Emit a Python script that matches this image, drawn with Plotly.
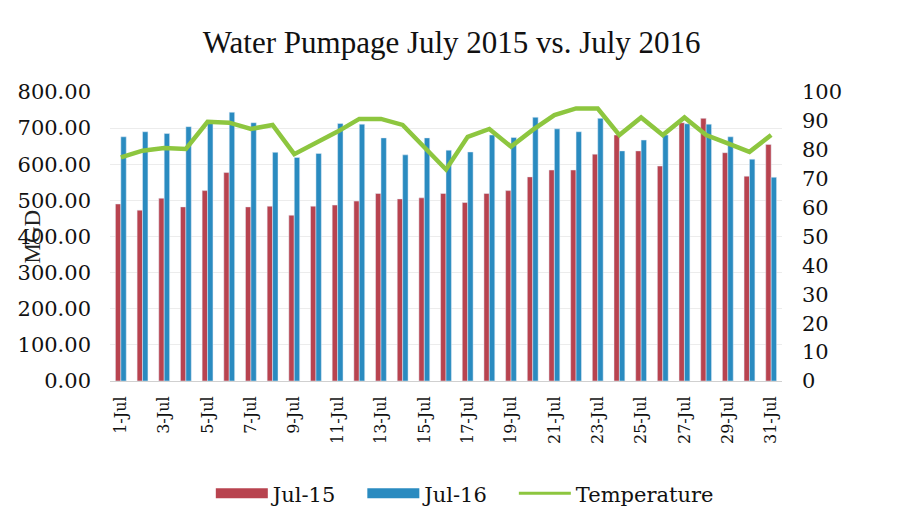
import plotly.graph_objects as go

days = [f"{d}-Jul" for d in range(1, 32)]
jul15 = [490, 473, 506, 482, 527, 577, 482, 484, 459, 484, 487, 498, 519, 504, 507, 519,
         494, 519, 527, 565, 584, 584, 628, 681, 637, 595, 715, 727, 632, 567, 655]
jul16 = [676, 690, 685, 704, 722, 744, 715, 633, 619, 630, 713, 711, 673, 626, 673, 639,
         634, 681, 674, 730, 698, 690, 727, 637, 667, 681, 712, 711, 676, 614, 564]
temperature = [77.4, 79.7, 80.6, 80.3, 89.7, 89.4, 87.2, 88.6, 78.5, 82.2, 86.3, 90.7,
               90.7, 88.6, 81.1, 73.2, 84.5, 87.2, 81.1, 86.9, 92.0, 94.3, 94.3, 85.1,
               91.2, 85.1, 91.2, 85.1, 82.2, 79.3, 85.1]
tick_days = days[::2]
left_ticks = list(range(0, 801, 100))
right_ticks = list(range(0, 101, 10))
series_names = ["Jul-15", "Jul-16", "Temperature"]

RED, BLUE, GREEN = "#B8434F", "#2A8BC0", "#8DC63F"
serif = "Liberation Serif, Times New Roman, serif"
wide = "DejaVu Serif, serif"
pad = "\u00a0\u00a0\u00a0"

fig = go.Figure()
fig.add_trace(go.Bar(x=days, y=jul15, name=series_names[0], marker_color=RED, showlegend=False))
fig.add_trace(go.Bar(x=days, y=jul16, name=series_names[1], marker_color=BLUE, showlegend=False))
fig.add_trace(go.Scatter(x=days, y=temperature, name=series_names[2], mode="lines",
                         line=dict(color=GREEN, width=4.5), yaxis="y2", showlegend=False))
# legend-only entries (wide swatches like the reference)
for nm, col, w in [(series_names[0] + pad, RED, 12), (series_names[1] + pad, BLUE, 12),
                   (series_names[2], GREEN, 3)]:
    fig.add_trace(go.Scatter(x=[None], y=[None], name=nm, mode="lines",
                             line=dict(color=col, width=w)))

# the page body adds an 8px offset, so the figure is 8px smaller than the window
fig.update_layout(
    width=891, height=519,
    margin=dict(l=102, r=117, t=84, b=146, autoexpand=False),
    paper_bgcolor="white", plot_bgcolor="white",
    font=dict(family=wide, size=20, color="#222"),
    title=dict(text="Water Pumpage July 2015 vs. July 2016", x=0.498, xanchor="center",
               y=0.9345, yanchor="middle", font=dict(family=serif, size=31, color="#111")),
    barmode="group", bargap=0.5, bargroupgap=0,
    showlegend=True,
    legend=dict(orientation="h", x=0.528, xanchor="center", y=-0.39, yanchor="middle",
                font=dict(family=wide, size=21, color="#111"), itemwidth=52,
                traceorder="normal"),
    xaxis=dict(type="category", tickvals=tick_days, ticktext=tick_days, tickangle=-90,
               showgrid=False, showline=True, linecolor="#d0d0d0", linewidth=1,
               tickfont=dict(family=wide, size=16, color="#111"), ticks="",
               ticklabelstandoff=8, automargin=False),
    yaxis=dict(range=[0, 800], tickvals=left_ticks, tickformat=".2f",
               showgrid=True, gridcolor="#ececec", zeroline=False, automargin=False,
               ticklabelstandoff=18,
               tickfont=dict(family=wide, size=21, color="#111")),
    yaxis2=dict(range=[0, 100], tickvals=right_ticks, overlaying="y", side="right",
                showgrid=False, zeroline=False, automargin=False, ticklabelstandoff=19,
                tickfont=dict(family=wide, size=21, color="#111")),
)
fig.add_annotation(text="MGD", textangle=-90, xref="paper", yref="paper",
                   x=-0.116, y=0.5, xanchor="center", yanchor="middle", showarrow=False,
                   font=dict(family=serif, size=23, color="#222"))

fig.write_html("out.html")
